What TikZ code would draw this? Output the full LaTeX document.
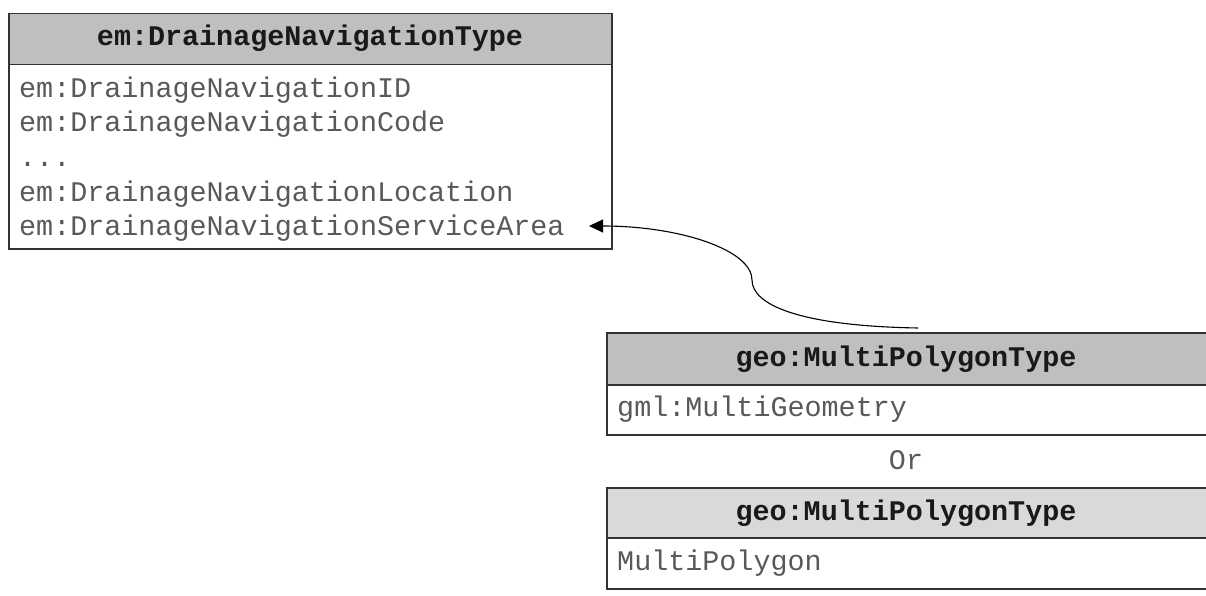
\documentclass[tikz,border=0pt]{standalone}
\usepackage{fontspec}
\setmonofont{Liberation Mono}
\usetikzlibrary{arrows.meta}
\begin{document}
\begin{tikzpicture}[x=1pt,y=-1pt,
  boxline/.style={draw=black!80, line width=1.5pt, inner sep=0pt, anchor=north west},
  hdrA/.style={fill=black!25},
  hdrB/.style={fill=black!15},
  ttl/.style={font=\fontsize{28.4}{34}\selectfont\ttfamily\bfseries, text=black!90, inner sep=0pt, anchor=base},
  fld/.style={font=\fontsize{28.4}{34}\selectfont\ttfamily, text=black!65, inner sep=0pt, anchor=base west},
  conn/.style={line width=1.1pt, -{Triangle[length=14pt,width=13pt]}},
]
\useasboundingbox (0,0) rectangle (1206,596);
% box 1
\node[boxline, hdrA, minimum width=603pt, minimum height=51pt] (h1) at (8,13) {};
\node[boxline, fill=white, minimum width=603pt, minimum height=184pt] (b1) at (8,64) {};
\node[ttl] (t1) at (310,46) {em:DrainageNavigationType};
\node[fld] (f1) at (19,97.5) {em:DrainageNavigationID};
\node[fld] (f2) at (19,132) {em:DrainageNavigationCode};
\node[fld] (f3) at (19,166.5) {...};
\node[fld] (f4) at (19,201) {em:DrainageNavigationLocation};
\node[fld] (f5) at (19,235.5) {em:DrainageNavigationServiceArea};
% box 2
\node[boxline, hdrA, minimum width=610pt, minimum height=52pt] (h2) at (606,332) {};
\node[boxline, fill=white, minimum width=610pt, minimum height=50pt] (b2) at (606,384) {};
\node[ttl] (t2) at (906,366) {geo:MultiPolygonType};
\node[fld] (g1) at (617,416.5) {gml:MultiGeometry};
\node[fld, anchor=base] (or) at (906,469.5) {Or};
% box 3
\node[boxline, hdrB, minimum width=610pt, minimum height=50pt] (h3) at (606,487) {};
\node[boxline, fill=white, minimum width=610pt, minimum height=51pt] (b3) at (606,537) {};
\node[ttl] (t3) at (906,520) {geo:MultiPolygonType};
\node[fld] (g2) at (617,570.5) {MultiPolygon};
% connector
\coordinate (src) at (918,328);
\coordinate (tgt) at (589,226);
\draw[conn] (src) .. controls (800,326) and (752,305) .. (752,280)
  .. controls (752,250) and (680,226) .. (tgt);
\end{tikzpicture}
\end{document}
